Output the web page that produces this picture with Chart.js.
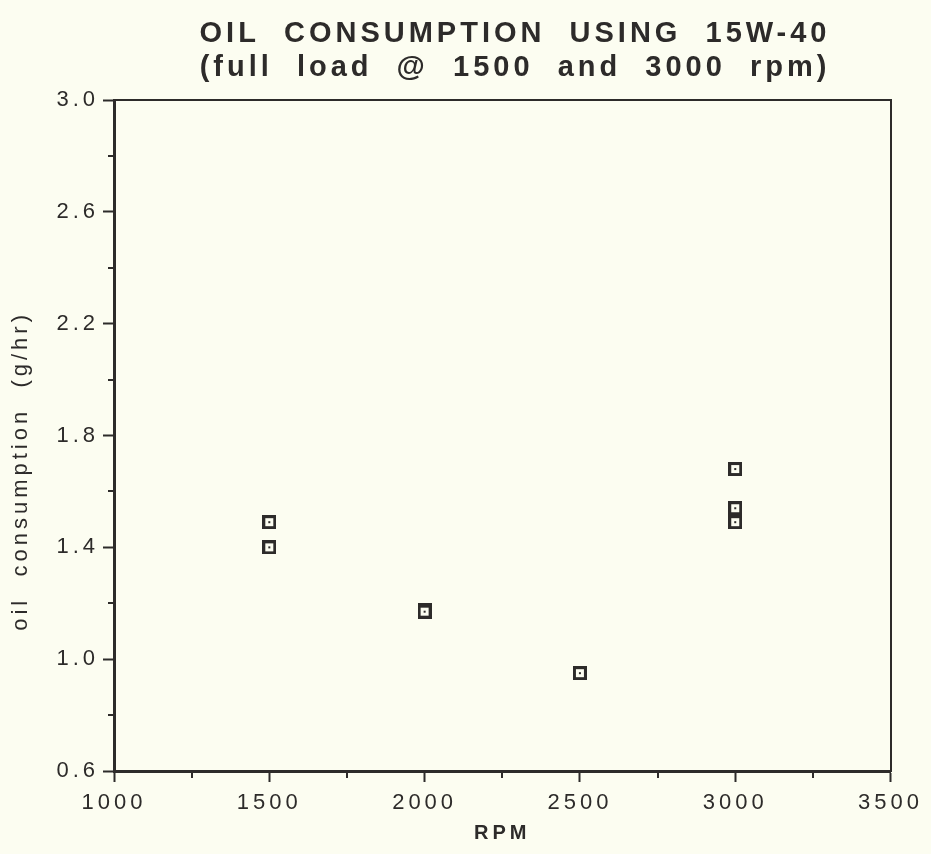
<!DOCTYPE html>
<html>
<head>
<meta charset="utf-8">
<script src="https://cdn.jsdelivr.net/npm/chart.js@4.4.1/dist/chart.umd.min.js"></script>
<style>
  html, body { margin: 0; padding: 0; background: #fcfdf1; }
  #wrap { width: 931px; height: 854px; }
</style>
</head>
<body>
<div id="wrap"><canvas id="oilChart" width="931" height="854"></canvas></div>
<script>
const rpm = [1500, 1500, 2000, 2000, 2500, 3000, 3000, 3000];
const oilConsumption = [1.49, 1.40, 1.175, 1.17, 0.95, 1.68, 1.54, 1.49];
const xTicks = [1000, 1500, 2000, 2500, 3000, 3500];
const yTicks = [0.6, 1.0, 1.4, 1.8, 2.2, 2.6, 3.0];
const xMinorTicks = [1250, 1750, 2250, 2750, 3250];
const yMinorTicks = [0.8, 1.2, 1.6, 2.0, 2.4, 2.8];
const titleLines = ['OIL  CONSUMPTION  USING  15W-40', '(full  load  @  1500  and  3000  rpm)'];
const xTitle = 'RPM';
// trailing blanks push the rotated label a bit down, as on the plot
const yTitle = 'oil  consumption  (g/hr)       ';

const ink = '#2d2b2a';
const paper = '#fcfdf1';
const family = '"Liberation Sans", Arial, Helvetica, sans-serif';

// little square with a dot in the middle, like the plotter symbol
function squareMarker() {
  let c = document.createElement('canvas');
  c.width = 14;
  c.height = 14;
  let g = c.getContext('2d');
  g.fillStyle = ink;
  g.fillRect(0, 0, 14, 14);
  g.fillStyle = paper;
  g.fillRect(3, 3, 8, 8);
  g.fillStyle = ink;
  g.fillRect(6, 6, 2, 2);
  return c;
}

// wide letter spacing of the old plot lettering
const spacing = {
  id: 'spacing',
  beforeUpdate(chart) { chart.ctx.letterSpacing = '4px'; },
  beforeDraw(chart) { chart.ctx.letterSpacing = '4px'; }
};

// the title sits a little right of the page centre
const titleShift = {
  id: 'titleShift',
  afterLayout(chart) {
    if (chart.titleBlock) {
      chart.titleBlock.left = 99;
      chart.titleBlock.right = chart.width;
    }
  }
};

// short minor tick marks between the labelled ones
const minorTicks = {
  id: 'minorTicks',
  afterDraw(chart) {
    let {ctx, chartArea, scales} = chart;
    ctx.save();
    ctx.strokeStyle = ink;
    ctx.lineWidth = 2;
    ctx.beginPath();
    xMinorTicks.forEach(v => {
      let px = Math.round(scales.x.getPixelForValue(v));
      ctx.moveTo(px, chartArea.bottom);
      ctx.lineTo(px, chartArea.bottom + 7);
    });
    yMinorTicks.forEach(v => {
      let py = Math.round(scales.y.getPixelForValue(v));
      ctx.moveTo(chartArea.left, py);
      ctx.lineTo(chartArea.left - 6, py);
    });
    ctx.stroke();
    ctx.restore();
  }
};

new Chart(document.getElementById('oilChart'), {
  type: 'scatter',
  data: {
    datasets: [{
      label: 'oil consumption',
      data: rpm.map((r, i) => ({x: r, y: oilConsumption[i]})),
      pointStyle: squareMarker(),
      pointRadius: 7,
      showLine: false
    }]
  },
  options: {
    responsive: false,
    animation: false,
    devicePixelRatio: 1,
    layout: { padding: 0 },
    plugins: {
      legend: { display: false },
      tooltip: { enabled: false },
      title: {
        display: true,
        text: titleLines,
        color: ink,
        font: { family: family, size: 29, weight: 'bold', lineHeight: 34 / 29 },
        padding: { top: 17, bottom: 15 }
      }
    },
    scales: {
      x: {
        type: 'linear',
        position: 'bottom',
        min: 1000,
        max: 3500,
        afterBuildTicks: s => { s.ticks = xTicks.map(v => ({value: v})); },
        afterFit: s => { s.height = 83; },
        ticks: {
          color: ink,
          font: { family: family, size: 22 },
          padding: 8,
          maxRotation: 0,
          callback: v => String(v)
        },
        grid: { drawOnChartArea: false, tickLength: 11, tickWidth: 2, tickColor: ink },
        border: { color: ink, width: 3 },
        title: {
          display: true,
          text: xTitle,
          color: ink,
          font: { family: family, size: 20, weight: 'bold' },
          padding: { top: 0, bottom: 9 }
        }
      },
      y: {
        type: 'linear',
        position: 'left',
        min: 0.6,
        max: 3.0,
        afterBuildTicks: s => { s.ticks = yTicks.map(v => ({value: v})); },
        afterFit: s => { s.width = 114; },
        ticks: {
          color: ink,
          font: { family: family, size: 22 },
          padding: 4,
          callback: v => v.toFixed(1)
        },
        grid: { drawOnChartArea: false, tickLength: 11, tickWidth: 2, tickColor: ink },
        border: { color: ink, width: 3 },
        title: {
          display: true,
          text: yTitle,
          color: ink,
          font: { family: family, size: 22 },
          padding: { top: 8, bottom: 0 }
        }
      },
      xTop: {
        type: 'linear',
        position: 'top',
        display: true,
        min: 1000,
        max: 3500,
        afterFit: s => { s.height = 0; },
        ticks: { display: false },
        grid: { display: false },
        border: { color: ink, width: 2 }
      },
      yRight: {
        type: 'linear',
        position: 'right',
        display: true,
        min: 0.6,
        max: 3.0,
        afterFit: s => { s.width = 39; },
        ticks: { display: false },
        grid: { display: false },
        border: { color: ink, width: 2 }
      }
    }
  },
  plugins: [spacing, titleShift, minorTicks]
});
</script>
</body>
</html>
